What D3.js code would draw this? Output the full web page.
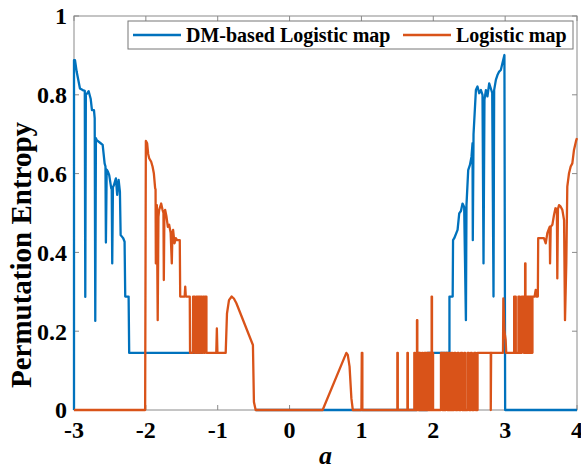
<!DOCTYPE html>
<html>
<head>
<meta charset="utf-8">
<script src="https://cdn.jsdelivr.net/npm/d3@7"></script>
<style>
  body { margin: 0; background: #fff; }
  text { font-family: "Liberation Serif", "Times New Roman", serif; font-weight: bold; }
</style>
</head>
<body>
<script>
// chart size
let w = 581;
let h = 469;
let margin = { left: 74, right: 3, top: 16, bottom: 59 };

// ticks
const xTicks = [-3, -2, -1, 0, 1, 2, 3, 4];
const yTicks = [0, 0.2, 0.4, 0.6, 0.8, 1];
const seriesNames = ["DM-based Logistic map", "Logistic map"];

// DM-based Logistic map as [a, PE]; null = no visible segment
const blueLeft = [[-3, 0], [-3, 0.888], [-2.986, 0.888], [-2.963, 0.859], [-2.917, 0.816], [-2.879, 0.812],
  [-2.85, 0.81], [-2.843, 0.287], [-2.835, 0.80], [-2.815, 0.804], [-2.796, 0.809], [-2.768, 0.79],
  [-2.75, 0.761], [-2.722, 0.761], [-2.712, 0.74], [-2.704, 0.226], [-2.695, 0.69], [-2.685, 0.685],
  [-2.629, 0.677], [-2.601, 0.673], [-2.574, 0.626], [-2.562, 0.618], [-2.556, 0.425], [-2.545, 0.61],
  [-2.528, 0.605], [-2.51, 0.596], [-2.482, 0.563], [-2.475, 0.56], [-2.468, 0.372], [-2.458, 0.565],
  [-2.444, 0.571], [-2.417, 0.588], [-2.399, 0.546], [-2.379, 0.584], [-2.361, 0.554], [-2.351, 0.444],
  [-2.333, 0.44], [-2.315, 0.436], [-2.296, 0.427], [-2.287, 0.288], [-2.24, 0.288], [-2.232, 0.145],
  [-1.2, 0.145], [-1.0, null], [-0.47, 0]];
const blueMid = [[1.77, 0], [1.77, 0.145], [1.80, 0.145], [1.80, 0], [1.92, 0], [1.92, 0.145]];
const blueRight = [[2.225, 0.145], [2.225, 0.288], [2.27, 0.288], [2.275, 0.431], [2.292, 0.436],
  [2.338, 0.457], [2.361, 0.499], [2.385, 0.505], [2.407, 0.524], [2.43, 0.515], [2.454, 0.228],
  [2.462, 0.52], [2.486, 0.609], [2.51, 0.622], [2.532, 0.643], [2.546, 0.677], [2.55, 0.431],
  [2.56, 0.70], [2.593, 0.812], [2.615, 0.821], [2.639, 0.804], [2.663, 0.812], [2.685, 0.80],
  [2.699, 0.372], [2.712, 0.787], [2.732, 0.812], [2.754, 0.796], [2.778, 0.829], [2.801, 0.816],
  [2.82, 0.805], [2.838, 0.288], [2.847, 0.812], [2.871, 0.838], [2.893, 0.85], [2.917, 0.859],
  [2.94, 0.863], [2.962, 0.88], [2.99, 0.901], [3.0, 0], [4, 0]];

// Logistic map
const orangeLeft = [[-3, 0], [-2.01, 0], [-2.0, 0.683], [-1.982, 0.677], [-1.968, 0.65], [-1.954, 0.639],
  [-1.926, 0.63], [-1.907, 0.618], [-1.889, 0.601], [-1.871, 0.563], [-1.865, 0.56], [-1.861, 0.372],
  [-1.855, 0.52], [-1.847, 0.52], [-1.835, 0.228], [-1.825, 0.49], [-1.815, 0.508], [-1.787, 0.524],
  [-1.768, 0.508], [-1.755, 0.50], [-1.75, 0.33], [-1.742, 0.50], [-1.732, 0.508], [-1.713, 0.491],
  [-1.694, 0.465], [-1.676, 0.47], [-1.655, 0.45], [-1.639, 0.372], [-1.63, 0.45], [-1.621, 0.457],
  [-1.601, 0.423], [-1.583, 0.436], [-1.565, 0.431], [-1.528, 0.431], [-1.522, 0.288], [-1.46, 0.288],
  [-1.452, 0.313], [-1.444, 0.288], [-1.389, 0.288], [-1.385, 0.145], [-1.345, 0.145], [-1.343, 0.288]];
const orangeZigLeft = [-1.319, -1.296, -1.282, -1.268, -1.25, -1.236, -1.222, -1.204, -1.19, -1.176, -1.157];
const orangeHumps = [[-1.02, 0.145], [-1.012, 0.207], [-1.004, 0.145], [-0.889, 0.145], [-0.871, 0.245],
  [-0.843, 0.279], [-0.806, 0.288], [-0.775, 0.283], [-0.74, 0.271], [-0.51, 0.165], [-0.496, 0.02],
  [-0.472, 0], [0.46, 0], [0.79, 0.145], [0.81, 0.14], [0.835, 0.11], [0.86, 0.03], [0.88, 0],
  [1.0, 0], [1.005, 0.145], [1.013, 0.145], [1.013, 0]];
// spikes from zero: [a, height, width]
const orangeSpikes = [[1.50, 0.145, 0.006], [1.64, 0.145, 0.006], [1.736, 0.145, 0.008], [1.773, 0.228, 0.005],
  [1.806, 0.145, 0.012], [1.843, 0.145, 0.01], [1.875, 0.145, 0.012], [1.898, 0.145, 0.008],
  [1.921, 0.145, 0.01], [1.944, 0.145, 0.012], [1.977, 0.288, 0.005], [1.991, 0.145, 0.006],
  [2.107, 0.145, 0.02], [2.144, 0.145, 0.012], [2.176, 0.145, 0.02], [2.222, 0.145, 0.01],
  [2.255, 0.145, 0.01], [2.292, 0.145, 0.018], [2.338, 0.145, 0.016], [2.384, 0.145, 0.018],
  [2.431, 0.145, 0.012], [2.477, 0.145, 0.018], [2.523, 0.145, 0.014], [2.569, 0.145, 0.02],
  [2.616, 0.145, 0.184]];
const orangeRightA = [[2.80, 0], [2.805, 0.145], [2.97, 0.145], [2.975, 0.283], [2.99, 0.2],
  [3.007, 0.178], [3.015, 0.145], [3.12, 0.145]];
const orangeZigRight1 = [3.125, 3.148, 3.185, 3.204, 3.231, 3.259];
const orangeTall = [[3.278, 0.145], [3.278, 0.372], [3.283, 0.372], [3.283, 0.145]];
const orangeZigRight2 = [3.296, 3.31, 3.324, 3.338, 3.352, 3.366, 3.38];
const orangeRightB = [[3.41, 0.288], [3.425, 0.305], [3.435, 0.288], [3.455, 0.288], [3.46, 0.436],
  [3.54, 0.436], [3.565, 0.423], [3.587, 0.449], [3.61, 0.46], [3.62, 0.465], [3.625, 0.372],
  [3.634, 0.465], [3.657, 0.47], [3.68, 0.495], [3.70, 0.512], [3.72, 0.51], [3.726, 0.334],
  [3.735, 0.51], [3.75, 0.52], [3.773, 0.516], [3.796, 0.508], [3.82, 0.482], [3.833, 0.228],
  [3.851, 0.372], [3.865, 0.567], [3.889, 0.601], [3.912, 0.618], [3.935, 0.626], [3.958, 0.66],
  [3.99, 0.685], [4.0, 0.69]];

// switch between two levels at each listed a
function toggles(xs, a, b) {
  let pts = [], cur = a;
  xs.forEach(function (x) {
    let nxt = cur === a ? b : a;
    pts.push([x, cur], [x, nxt]);
    cur = nxt;
  });
  return pts;
}
function spikes(list) {
  return list.flatMap(function (s) {
    return [[s[0], 0], [s[0], s[1]], [s[0] + s[2], s[1]], [s[0] + s[2], 0]];
  });
}

let blue = blueLeft.concat(blueMid, blueRight);
let orange = orangeLeft.concat(
  toggles(orangeZigLeft, 0.288, 0.145), orangeHumps, spikes(orangeSpikes), orangeRightA,
  toggles(orangeZigRight1, 0.145, 0.288), orangeTall, toggles(orangeZigRight2, 0.145, 0.288), orangeRightB);

let x = d3.scaleLinear().domain([-3, 4]).range([margin.left, w - margin.right - 1]);
let y = d3.scaleLinear().domain([0, 1]).range([h - margin.bottom, margin.top]);

let svg = d3.select("body").append("svg")
  .attr("width", w)
  .attr("height", h);

let axisColor = "#8a8a8a";

// axes box
svg.append("rect")
  .attr("x", x(-3)).attr("y", y(1))
  .attr("width", x(4) - x(-3)).attr("height", y(0) - y(1))
  .attr("fill", "none").attr("stroke", axisColor).attr("stroke-width", 1);

// inward ticks on all sides
let tl = 5;
xTicks.forEach(function (t) {
  svg.append("line").attr("x1", x(t)).attr("x2", x(t)).attr("y1", y(0)).attr("y2", y(0) - tl).attr("stroke", axisColor);
  svg.append("line").attr("x1", x(t)).attr("x2", x(t)).attr("y1", y(1)).attr("y2", y(1) + tl).attr("stroke", axisColor);
  svg.append("text").attr("x", x(t)).attr("y", y(0) + 28)
    .attr("text-anchor", "middle").attr("font-size", 24).text(t);
});
yTicks.forEach(function (t) {
  svg.append("line").attr("x1", x(-3)).attr("x2", x(-3) + tl).attr("y1", y(t)).attr("y2", y(t)).attr("stroke", axisColor);
  svg.append("line").attr("x1", x(4)).attr("x2", x(4) - tl).attr("y1", y(t)).attr("y2", y(t)).attr("stroke", axisColor);
  svg.append("text").attr("x", x(-3) - 7).attr("y", y(t)).attr("dy", "0.35em")
    .attr("text-anchor", "end").attr("font-size", 24).text(t);
});

// axis titles
svg.append("text")
  .attr("transform", "translate(31," + ((y(0) + y(1)) / 2 + 42) + ") rotate(-90)")
  .attr("text-anchor", "middle").attr("font-size", 29).text("Permutation Entropy");
svg.append("text")
  .attr("x", (x(-3) + x(4)) / 2).attr("y", 464)
  .attr("text-anchor", "middle").attr("font-size", 26).attr("font-style", "italic").text("a");

// lines
let line = d3.line().defined(d => d[1] !== null).x(d => x(d[0])).y(d => y(d[1]));
let colors = ["#0072BD", "#D95319"];
[blue, orange].forEach(function (s, i) {
  svg.append("path").datum(s).attr("d", line)
    .attr("fill", "none").attr("stroke", colors[i])
    .attr("stroke-width", 2.3).attr("stroke-linejoin", "round");
});

// legend
let lg = svg.append("g");
lg.append("rect").attr("x", 128).attr("y", 21).attr("width", 445).attr("height", 28)
  .attr("fill", "#fff").attr("stroke", "#777");
let items = [{ x0: 133, tx: 186 }, { x0: 403, tx: 456 }];
items.forEach(function (it, i) {
  lg.append("line").attr("x1", it.x0).attr("x2", it.x0 + 48).attr("y1", 35).attr("y2", 35)
    .attr("stroke", colors[i]).attr("stroke-width", 2.3);
  lg.append("text").attr("x", it.tx).attr("y", 35).attr("dy", "0.33em")
    .attr("font-size", 20).text(seriesNames[i]);
});
</script>
</body>
</html>
